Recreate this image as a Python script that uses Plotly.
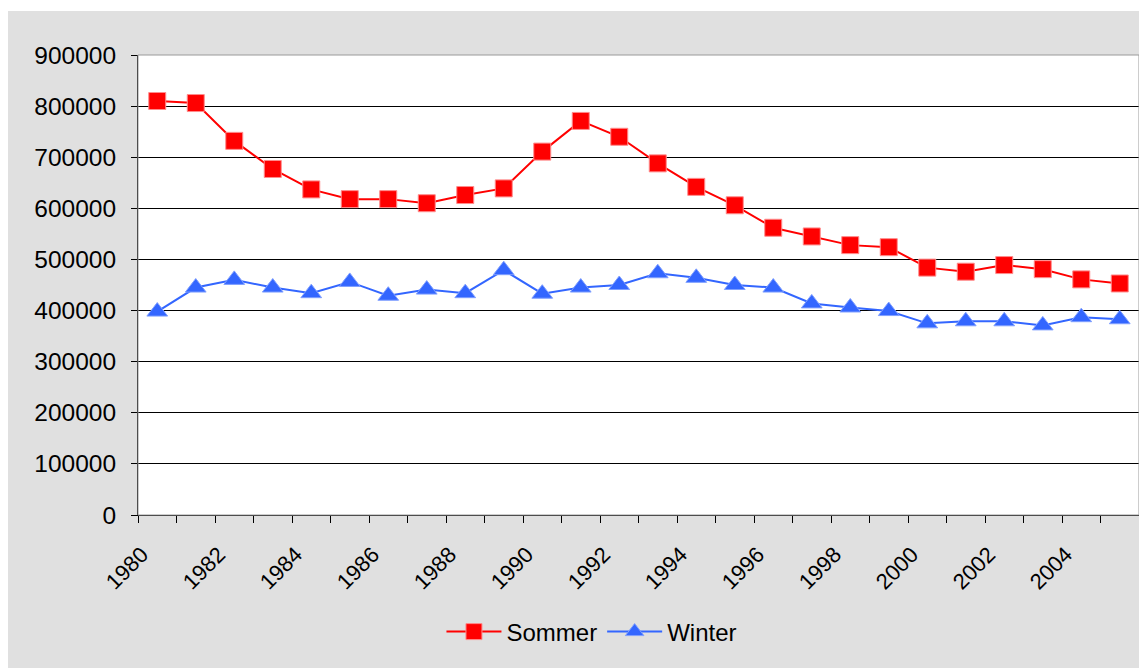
import plotly.graph_objects as go

years = list(range(1980, 2006))
sommer = [810000, 806000, 732000, 677000, 637000, 618000, 618000, 610000, 626000, 639000,
          711000, 771000, 740000, 688000, 642000, 606000, 562000, 545000, 528000, 524000,
          484000, 476000, 489000, 481000, 461000, 453000]
winter = [398000, 445000, 460000, 445000, 434000, 456000, 429000, 441000, 434000, 479000,
          433000, 445000, 450000, 473000, 464000, 450000, 445000, 414000, 406000, 399000,
          375000, 379000, 379000, 371000, 387000, 383000]
label_years = list(range(1980, 2005, 2))
y_ticks = list(range(0, 900001, 100000))

FONT = "Arial, 'Liberation Sans', sans-serif"
GRAY = "#e0e0e0"

fig = go.Figure()
fig.add_trace(go.Scatter(
    x=years, y=sommer, name="Sommer", mode="lines+markers",
    line=dict(color="#ff0000", width=2),
    marker=dict(symbol="square", size=17, color="#ff0000",
                line=dict(color="#ff8c8c", width=1)),
))
fig.add_trace(go.Scatter(
    x=years, y=winter, name="Winter", mode="lines+markers",
    line=dict(color="#3366ff", width=2),
    marker=dict(symbol="triangle-up", size=18, color="#3366ff",
                line=dict(color="#7f9fff", width=1)),
))

# figure is placed at page offset (8, 8) by the body margin
W, H = 1139, 660
L, T = 130, 47
pw, ph = 1001, 460
R, B = W - L - pw, H - T - ph

fig.update_layout(
    width=W, height=H,
    margin=dict(l=L, r=R, t=T, b=B, pad=0),
    paper_bgcolor=GRAY, plot_bgcolor="white",
    font=dict(family=FONT, size=22, color="black"),
    showlegend=True,
    legend=dict(orientation="h", x=0.4535, xanchor="center", y=-(632 - 515) / ph,
                yanchor="middle", font=dict(size=24), bgcolor="rgba(0,0,0,0)",
                itemwidth=55, tracegroupgap=0),
    xaxis=dict(
        range=[1979.5, 2005.5], tickmode="array",
        tickvals=[y - 0.4 for y in label_years],
        ticktext=[str(y) for y in label_years], tickangle=-45, ticks="",
        ticklabelstandoff=17,
        showgrid=False, zeroline=False, showline=True, linecolor="black", linewidth=1,
        tickfont=dict(size=22),
        minor=dict(tick0=1979.5, dtick=1, ticks="outside", ticklen=7,
                   tickcolor="black", tickwidth=1, showgrid=False),
    ),
    yaxis=dict(
        range=[0, 900000], tickmode="array", tickvals=y_ticks,
        ticktext=[str(v) for v in y_ticks],
        ticks="outside", ticklen=6, tickcolor="black",
        ticklabelstandoff=10,
        showgrid=True, gridcolor="black", gridwidth=1,
        zeroline=False, showline=True, linecolor="black", linewidth=1,
        tickfont=dict(size=24.5),
    ),
    shapes=[
        dict(type="rect", xref="paper", yref="paper", x0=0, x1=1, y0=0, y1=1,
             line=dict(color="#9a9a9a", width=1), fillcolor="rgba(0,0,0,0)", layer="above"),
        dict(type="rect", xref="paper", yref="paper",
             x0=-L / pw - 0.01, x1=(W - L) / pw + 0.01, y0=1 + (T - 3) / ph, y1=1 + T / ph + 0.01,
             line=dict(width=0), fillcolor="white", layer="above"),
    ],
)

fig.write_html("out.html")
